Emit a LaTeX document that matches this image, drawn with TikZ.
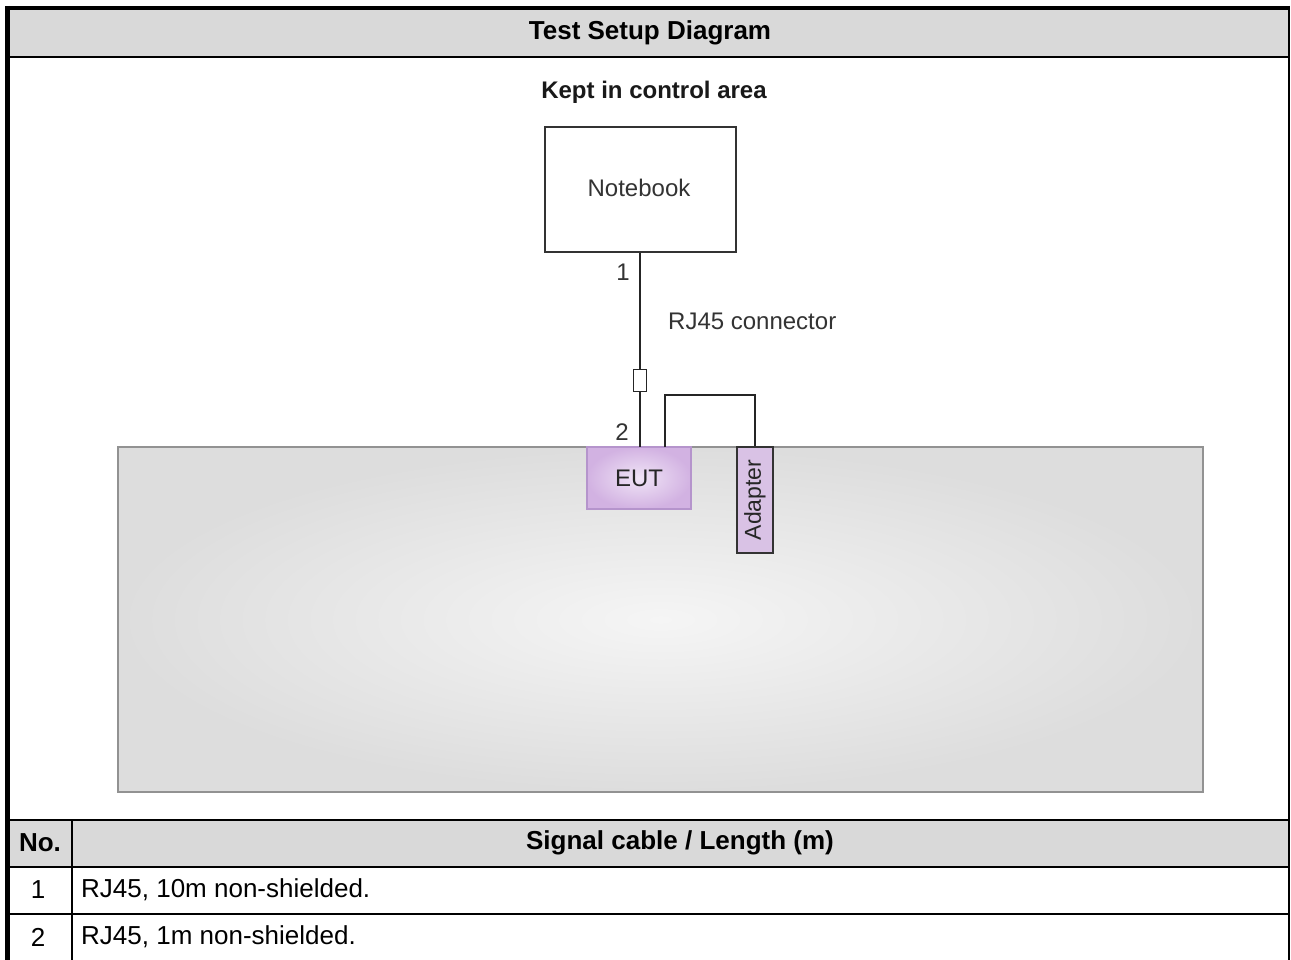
\documentclass[tikz,border=0pt]{standalone}
\usepackage{fontspec}
\usepackage{graphicx}
\setmainfont{Liberation Sans}
\definecolor{hdrgray}{HTML}{D9D9D9}
\definecolor{tblborder}{HTML}{929292}
\definecolor{deskin}{HTML}{F5F5F5}
\definecolor{deskout}{HTML}{DDDDDD}
\definecolor{eutin}{HTML}{F0E4F6}
\definecolor{eutout}{HTML}{D2B2E2}
\definecolor{eutborder}{HTML}{B594CC}
\definecolor{adfill}{HTML}{D9C2E5}
\definecolor{wirecol}{HTML}{252525}
\definecolor{diagtxt}{HTML}{333333}
\newcommand\fsz[1]{\fontsize{#1}{#1}\selectfont}
\tikzset{
  tbltext/.style={font=\fsz{26}, inner sep=0pt, text=black},
  tblbold/.style={font=\bfseries\fsz{26}, inner sep=0pt, text=black},
  diagtext/.style={font=\fsz{24}, inner sep=0pt, text=diagtxt},
  wire/.style={draw=wirecol, line width=2pt},
  rule/.style={draw=black, line width=2pt},
  nbbox/.style={draw=black!80, line width=2pt, fill=white, minimum width=191pt, minimum height=125pt, inner sep=0pt},
  connbox/.style={draw=wirecol, line width=1.6pt, fill=white, minimum width=13pt, minimum height=22pt, inner sep=0pt},
  deskbox/.style={draw=tblborder, line width=2pt, inner color=deskin, outer color=deskout, minimum width=1085pt, minimum height=345pt, inner sep=0pt},
  eutbox/.style={draw=eutborder, line width=2pt, inner color=eutin, outer color=eutout, minimum width=104pt, minimum height=62pt, inner sep=0pt, font=\fsz{24}, text=black!85},
  adbox/.style={draw=black!80, line width=2pt, fill=adfill, minimum width=36pt, minimum height=106pt, inner sep=0pt, font=\fsz{23}, text=black!85},
}
\begin{document}
\begin{tikzpicture}[x=1pt, y=-1pt]
\useasboundingbox (0,0) rectangle (1291,960);
\fill[white] (0,0) rectangle (1291,960);
% header bands
\fill[hdrgray] (10,10) rectangle (1288,56);
\fill[hdrgray] (10,821) rectangle (1288,866);
% table rules
\draw[black, line width=4pt] (5,8) -- (1290,8);
\draw[black, line width=5pt] (7.5,6) -- (7.5,960);
\draw[black, line width=2pt] (1289,6) -- (1289,960);
\draw[rule] (10,57) -- (1288,57);
\draw[black, line width=1.6pt] (10,820) -- (1288,820);
\draw[rule] (10,867) -- (1288,867);
\draw[rule] (10,914) -- (1288,914);
\draw[black, line width=1.6pt] (72,820) -- (72,960);
% table texts
\node[tblbold] (title) at (650,33) {Test Setup Diagram};
\node[tblbold] (nohead) at (40,843) {No.};
\node[tblbold] (cablehead) at (680,843) {Signal cable / Length (m)};
\node[tbltext] (n1) at (38,890) {1};
\node[tbltext] (n2) at (38,937) {2};
\node[tbltext, anchor=west] (c1) at (81,890) {RJ45, 10m non-shielded.};
\node[tbltext, anchor=west] (c2) at (81,937) {RJ45, 1m non-shielded.};
% diagram
\node[font=\bfseries\fsz{24}, inner sep=0pt, text=black!90] (kept) at (654,92) {Kept in control area};
\node[nbbox] (nb) at (640,189.5) {};
\node[diagtext] (nbtxt) at (639,188) {Notebook};
\node[deskbox] (desk) at (660.5,619.5) {};
\node[connbox] (cn) at (640,380.5) {};
\node[eutbox] (eut) at (639,478) {EUT};
\node[adbox] (ad) at (755,500) {\rotatebox{90}{Adapter}};
\coordinate (e1) at (640,447);
\coordinate (e2) at (665,447);
\draw[wire] (nb.south) -- (cn.north);
\draw[wire] (cn.south) -- (e1);
\draw[wire] (e2) -- ++(0,-52) -| (ad.north);
\node[diagtext] (lab1) at (623,272) {1};
\node[diagtext] (lab2) at (622,432) {2};
\node[diagtext, anchor=west] (rj) at (668,321) {RJ45 connector};
\end{tikzpicture}
\end{document}
